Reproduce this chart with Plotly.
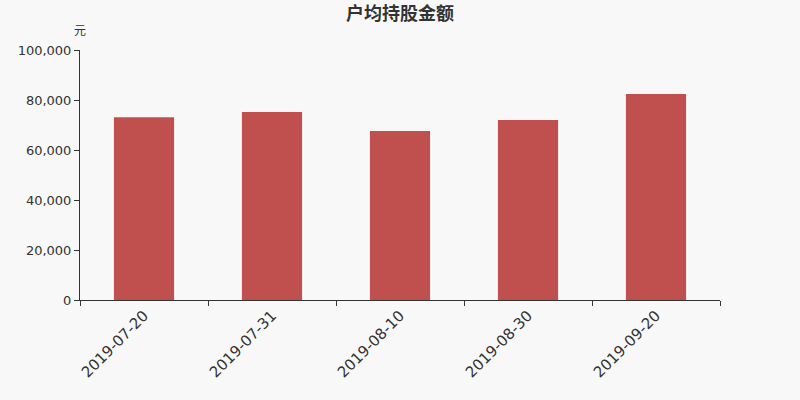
import plotly.graph_objects as go

dates = ['2019-07-20', '2019-07-31', '2019-08-10', '2019-08-30', '2019-09-20']
amounts = [73100, 75200, 67600, 72000, 82400]

fig = go.Figure()

fig.add_trace(go.Bar(
    x=dates,
    y=amounts,
    marker_color='#c0504d',
    marker_line_width=0,
    hovertemplate='%{x}<br>%{y:,}<extra></extra>'
))

fig.update_layout(
    width=800, height=400,
    margin=dict(l=80, r=80, t=50, b=100),
    paper_bgcolor='#f8f8f8',
    plot_bgcolor='#f8f8f8',
    bargap=0.53,
    showlegend=False,
    font=dict(family='DejaVu Sans', color='#333333'),
    title=dict(text='<b>户均持股金额</b>', x=0.5, y=0.965, xanchor='center', yanchor='middle',
               font=dict(family='Noto Sans CJK SC', size=18, color='#333333')),
)

fig.update_xaxes(
    type='category',
    showline=True, linecolor='#333333', linewidth=1,
    ticks='outside', tickson='boundaries', ticklen=5, tickcolor='#333333',
    tickangle=-45, tickfont=dict(size=15, color='#333333'),
    showgrid=False
)

fig.update_yaxes(
    range=[0, 100000], dtick=20000, tickformat=',',
    showline=True, linecolor='#333333', linewidth=1,
    ticks='outside', ticklen=5, tickcolor='#333333',
    tickfont=dict(size=13, color='#333333'),
    showgrid=False, zeroline=False
)

# unit label above the y axis
fig.add_annotation(
    text='元', xref='paper', yref='paper', x=0, y=1.04,
    xanchor='center', yanchor='bottom', showarrow=False,
    font=dict(family='Noto Sans CJK SC', size=12, color='#333333')
)

# drop the default page margin so the chart fills the window
fig.write_html('out.html', config={'displayModeBar': False},
               post_script="document.body.style.margin='0';")
